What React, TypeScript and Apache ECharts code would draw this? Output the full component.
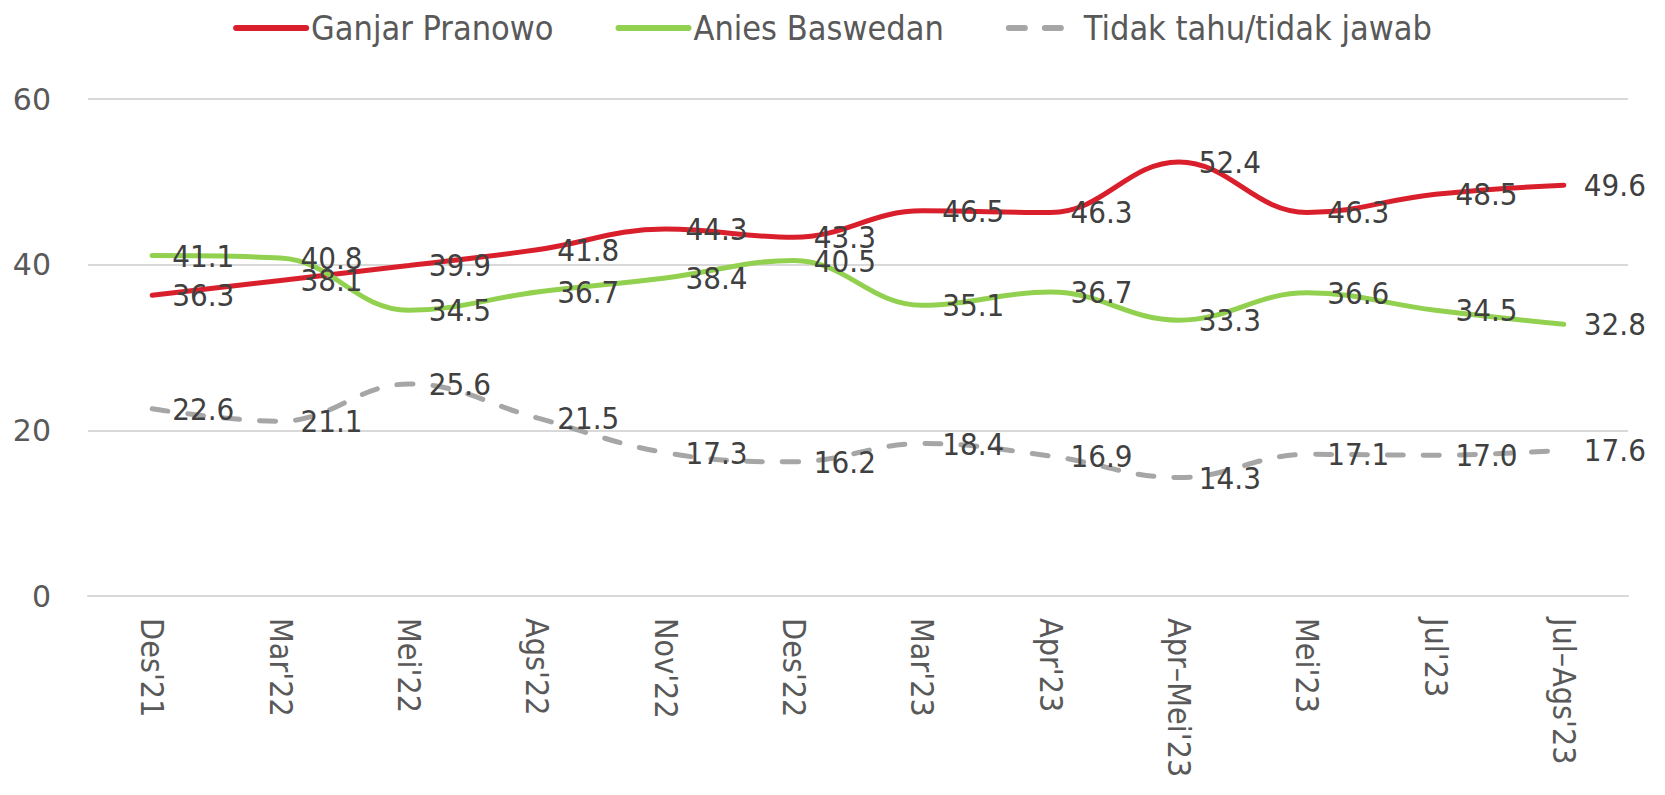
import React, { useEffect, useRef } from "react";
import * as echarts from "echarts";

const categories = [
  "Des'21", "Mar'22", "Mei'22", "Ags'22", "Nov'22", "Des'22",
  "Mar'23", "Apr'23", "Apr–Mei'23", "Mei'23", "Jul'23", "Jul–Ags'23",
];
const ganjar = [36.3, 38.1, 39.9, 41.8, 44.3, 43.3, 46.5, 46.3, 52.4, 46.3, 48.5, 49.6];
const anies = [41.1, 40.8, 34.5, 36.7, 38.4, 40.5, 35.1, 36.7, 33.3, 36.6, 34.5, 32.8];
const tidakTahu = [22.6, 21.1, 25.6, 21.5, 17.3, 16.2, 18.4, 16.9, 14.3, 17.1, 17.0, 17.6];

const COND = "'DejaVu Sans Condensed', 'Liberation Sans Narrow', 'DejaVu Sans', sans-serif";
const REG = "'DejaVu Sans', Verdana, sans-serif";

export default function App() {
  const ref = useRef<HTMLDivElement>(null);
  useEffect(() => {
    if (!ref.current) return;
    const chart = echarts.init(ref.current, null, { renderer: "svg" });
    const label = {
      show: true,
      position: "right",
      distance: 20,
      color: "#404040",
      fontFamily: COND,
      fontSize: 31,
      formatter: (p: any) => Number(p.value).toFixed(1),
    };
    const mk = (name: string, data: number[], color: string, type: any) => ({
      name,
      type: "line",
      data,
      smooth: 0.4,
      symbol: "circle",
      symbolSize: 0,
      showSymbol: true,
      lineStyle: { color, width: 5, type, cap: "round" },
      itemStyle: { color },
      label,
      labelLayout: { hideOverlap: false },
    });
    chart.setOption({
      animation: false,
      legend: {
        top: 6,
        left: "center",
        itemWidth: 70,
        itemHeight: 14,
        itemGap: 62,
        itemStyle: { opacity: 0 },
        lineStyle: { width: 6, cap: "round" },
        textStyle: { fontFamily: COND, fontSize: 34, color: "#595959" },
        data: ["Ganjar Pranowo", "Anies Baswedan", "Tidak tahu/tidak jawab"],
      },
      grid: { left: 88, right: 37, top: 99, bottom: 199, containLabel: false },
      xAxis: {
        type: "category",
        data: categories,
        boundaryGap: true,
        axisLine: { show: true, lineStyle: { color: "#D9D9D9", width: 2 } },
        axisTick: { show: false },
        axisLabel: {
          rotate: -90,
          margin: 22,
          color: "#595959",
          fontFamily: COND,
          fontSize: 32,
          interval: 0,
        },
      },
      yAxis: {
        type: "value",
        min: 0,
        max: 60,
        interval: 20,
        axisLine: { show: false },
        axisTick: { show: false },
        splitLine: { lineStyle: { color: "#D9D9D9", width: 2 } },
        axisLabel: { color: "#595959", fontFamily: REG, fontSize: 30, margin: 37 },
      },
      series: [
        mk("Ganjar Pranowo", ganjar, "#DA1F2C", "solid"),
        mk("Anies Baswedan", anies, "#92D050", "solid"),
        mk("Tidak tahu/tidak jawab", tidakTahu, "#A6A6A6", [16, 20]),
      ],
    });
    return () => chart.dispose();
  }, []);
  return (
    <div
      ref={ref}
      style={{ position: "fixed", left: 0, top: 0, width: 1665, height: 795, background: "#fff" }}
    />
  );
}
